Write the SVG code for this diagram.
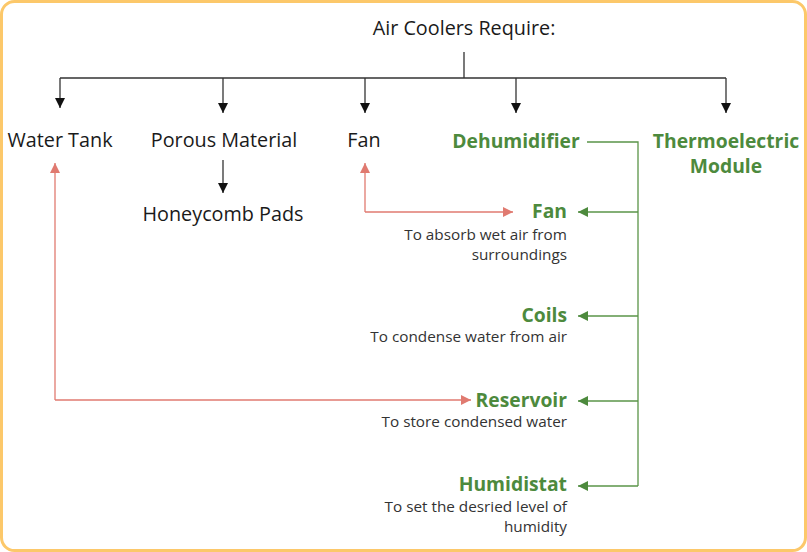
<svg xmlns="http://www.w3.org/2000/svg" width="807" height="552" viewBox="0 0 807 552">
<defs>
<style>
.t{font-family:"Open Sans","Liberation Sans",sans-serif;font-size:19.8px;fill:#1a1a1a}
.g{font-family:"Open Sans","Liberation Sans",sans-serif;font-size:19.3px;font-weight:bold;fill:#4d8a3d}
.d{font-family:"Open Sans","Liberation Sans",sans-serif;font-size:15.3px;fill:#333}
.k{stroke:#333;stroke-width:1.3;fill:none}
.gl{stroke:#5a9448;stroke-width:1.3;fill:none}
.rl{stroke:#e07a70;stroke-width:1.3;fill:none}
</style>
<marker id="ak" viewBox="0 0 10 10" refX="10" refY="5" markerWidth="10" markerHeight="10" markerUnits="userSpaceOnUse" orient="auto"><path d="M0,0L10,5L0,10z" fill="#111"/></marker>
<marker id="ag" viewBox="0 0 10 10" refX="10" refY="5" markerWidth="10" markerHeight="10" markerUnits="userSpaceOnUse" orient="auto"><path d="M0,0L10,5L0,10z" fill="#4d8a3d"/></marker>
<marker id="ar" viewBox="0 0 10 10" refX="10" refY="5" markerWidth="10" markerHeight="10" markerUnits="userSpaceOnUse" orient="auto"><path d="M0,0L10,5L0,10z" fill="#e07a70"/></marker>
</defs>
<rect x="1.5" y="1.5" width="804" height="549" rx="13" fill="#fff" stroke="#fcc86a" stroke-width="3"/>
<g id="connectors">
<path class="k" d="M464,52V78M60,78H726"/>
<path class="k" d="M60,78V108" marker-end="url(#ak)"/>
<path class="k" d="M223,78V113" marker-end="url(#ak)"/>
<path class="k" d="M365,78V113" marker-end="url(#ak)"/>
<path class="k" d="M516,78V113" marker-end="url(#ak)"/>
<path class="k" d="M726,78V113" marker-end="url(#ak)"/>
<path class="k" d="M223,160V193" marker-end="url(#ak)"/>
<path class="gl" d="M587,142H638V486"/>
<path class="gl" d="M638,212H578" marker-end="url(#ag)"/>
<path class="gl" d="M638,316H578" marker-end="url(#ag)"/>
<path class="gl" d="M638,401H578" marker-end="url(#ag)"/>
<path class="gl" d="M638,486H578" marker-end="url(#ag)"/>
<path class="rl" d="M55,400V163" marker-end="url(#ar)"/>
<path class="rl" d="M55,400H471" marker-end="url(#ar)"/>
<path class="rl" d="M365,212V163" marker-end="url(#ar)"/>
<path class="rl" d="M365,212H513" marker-end="url(#ar)"/>
</g>
<g id="title"><text class="t" x="464" y="35" text-anchor="middle">Air Coolers Require:</text></g>
<g id="water-tank"><text class="t" x="60" y="147" text-anchor="middle">Water Tank</text></g>
<g id="porous"><text class="t" x="224" y="147" text-anchor="middle">Porous Material</text></g>
<g id="fan"><text class="t" x="364" y="147" text-anchor="middle">Fan</text></g>
<g id="honeycomb"><text class="t" x="223" y="221" text-anchor="middle">Honeycomb Pads</text></g>
<g id="dehumidifier"><text class="g" x="516" y="148" text-anchor="middle">Dehumidifier</text></g>
<g id="thermo"><text class="g" x="726" y="148" text-anchor="middle">Thermoelectric</text><text class="g" x="726" y="173" text-anchor="middle">Module</text></g>
<g id="fan2"><text class="g" x="567" y="218" text-anchor="end">Fan</text><text class="d" x="567" y="240" text-anchor="end">To absorb wet air from</text><text class="d" x="567" y="260" text-anchor="end">surroundings</text></g>
<g id="coils"><text class="g" x="567" y="321.5" text-anchor="end">Coils</text><text class="d" x="567" y="342" text-anchor="end">To condense water from air</text></g>
<g id="reservoir"><text class="g" x="567" y="407" text-anchor="end">Reservoir</text><text class="d" x="567" y="427" text-anchor="end">To store condensed water</text></g>
<g id="humidistat"><text class="g" x="567" y="491" text-anchor="end">Humidistat</text><text class="d" x="567" y="512" text-anchor="end">To set the desried level of</text><text class="d" x="567" y="532" text-anchor="end">humidity</text></g>
</svg>
